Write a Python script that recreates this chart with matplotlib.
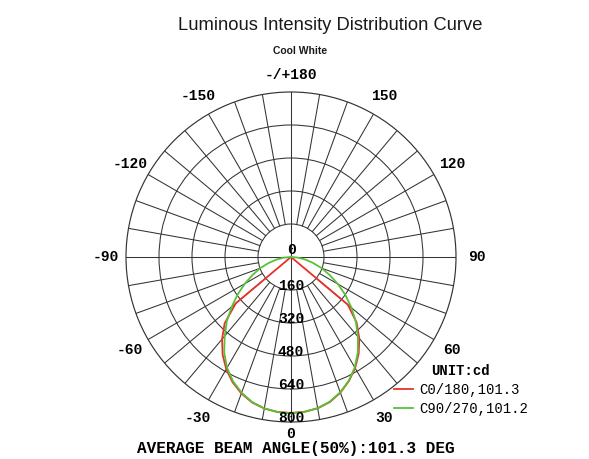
import numpy as np
import matplotlib
matplotlib.use('Agg')
import matplotlib.pyplot as plt

# gamma angles (deg), 0 = straight down; negative side = C180 / C270
angles = np.arange(-90, 95, 5)

# C0/180 plane, cd (read left -> right, -90..90)
c0_180 = [0, 0, 0, 0, 0, 0, 0, 0,
          350, 455, 520, 578, 628, 670, 704, 730, 746, 754,
          756,
          753, 745, 728, 700, 664, 622, 572, 515, 450, 360,
          0, 0, 0, 0, 0, 0, 0, 0]

# C90/270 plane, cd
c90_270 = [0, 35, 72, 112, 160, 205, 258, 315, 375, 440, 500, 565, 620, 665, 700, 728, 745, 755,
           758,
           754, 744, 726, 698, 662, 618, 565, 505, 445, 383, 322, 263, 207, 158, 110, 70, 33, 0]

rings = [160, 320, 480, 640, 800]
angle_labels = {180: '-/+180', -150: '-150', 150: '150', -120: '-120', 120: '120',
                -90: '-90', 90: '90', -60: '-60', 60: '60', -30: '-30', 30: '30', 0: '0'}

mono = 'Liberation Mono'
grid_c = '#333333'

fig = plt.figure(figsize=(5.89, 4.59), dpi=100)
ax = fig.add_axes([126 / 589, 37 / 459, 330 / 589, 330 / 459], projection='polar')
ax.set_theta_zero_location('S')
ax.set_theta_direction(1)
ax.set_ylim(0, 800)
ax.set_xticks([])
ax.set_yticks(rings[:-1])
ax.set_yticklabels([])
ax.yaxis.grid(True, color=grid_c, linewidth=0.75, linestyle='-')
ax.spines['polar'].set_color(grid_c)
ax.spines['polar'].set_linewidth(0.85)

# spokes every 10 deg from the first ring outwards, axes through the centre
for a in range(0, 360, 10):
    th = np.deg2rad(a)
    r0 = 0 if a % 90 == 0 else rings[0]
    ax.plot([th, th], [r0, 800], color=grid_c, lw=0.75, zorder=1)

th = np.deg2rad(angles)
ax.plot(th, c0_180, color='#e8312a', lw=1.3, label='C0/180,101.3', zorder=3)
ax.plot(th, c90_270, color='#58c13a', lw=1.3, label='C90/270,101.2', zorder=4)

# angle labels around the outside
for a, txt in angle_labels.items():
    f = 1.125
    if a == 0:
        f = 1.07
    elif a == 180:
        f = 1.10
    ax.text(np.deg2rad(a), 800 * f, txt, ha='center', va='center', family=mono,
            fontweight='bold', fontsize=10.5, clip_on=False)

# intensity labels along the 0 ray
ax.text(np.pi, 35, '0', ha='center', va='center', family=mono, fontweight='bold', fontsize=10.5)
for r in rings:
    ax.text(0, r - 20, str(r), ha='center', va='center', family=mono,
            fontweight='bold', fontsize=10.5, zorder=5)

leg = ax.legend(loc='upper left', bbox_to_anchor=(394 / 589, 1 - 364 / 459),
                bbox_transform=fig.transFigure, frameon=False, title='UNIT:cd',
                prop={'family': mono, 'size': 10}, handlelength=1.4, handletextpad=0.4,
                labelspacing=0.35, borderpad=0, borderaxespad=0,
                title_fontproperties={'family': mono, 'weight': 'bold', 'size': 10})
leg._legend_box.align = 'center'

fig.text(330 / 589, 1 - 25 / 459, 'Luminous Intensity Distribution Curve', ha='center', va='center',
         family='Liberation Sans', fontsize=13.2, color='#1a1a1a')
fig.text(300 / 589, 1 - 51 / 459, 'Cool White', ha='center', va='center',
         family='Liberation Sans', fontsize=7.5, fontweight='bold', color='#1a1a1a')
fig.text(296 / 589, 1 - 448 / 459, 'AVERAGE BEAM ANGLE(50%):101.3 DEG', ha='center', va='center',
         family=mono, fontsize=11.5, fontweight='bold')

fig.savefig('out.png', dpi=100)
